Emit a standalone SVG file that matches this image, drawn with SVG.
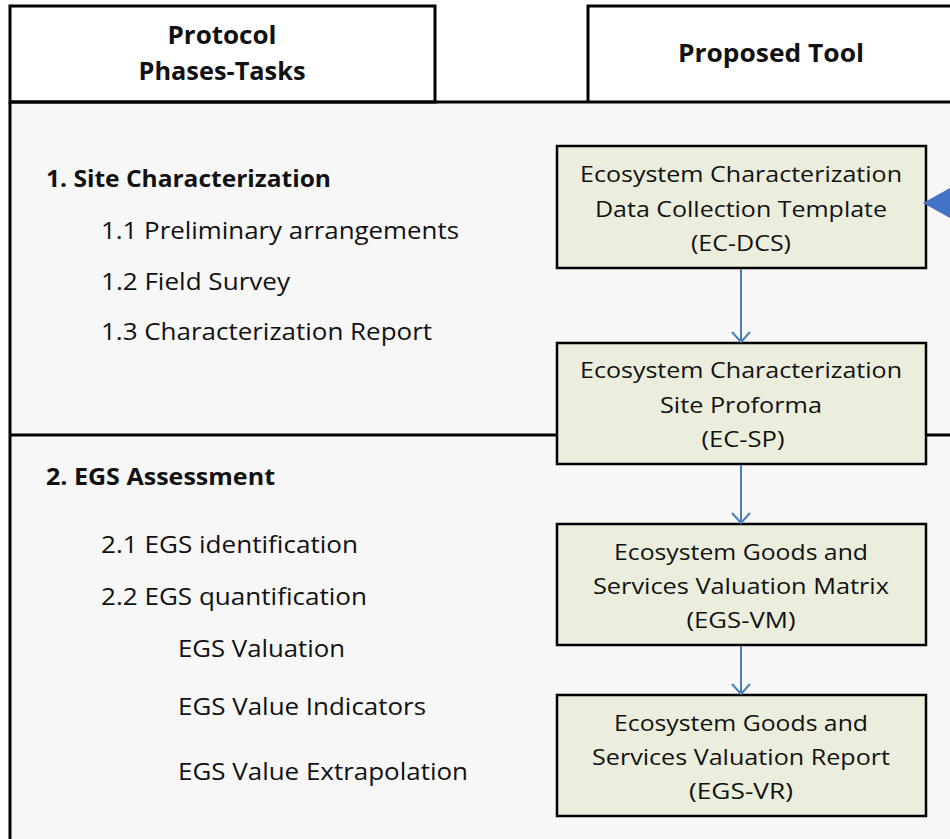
<svg xmlns="http://www.w3.org/2000/svg" width="950" height="839" viewBox="0 0 950 839">
  <defs>
    <!-- open "vee" arrowhead, drawn pointing along +x so orient="auto" follows the line -->
    <marker id="vee" viewBox="0 0 20 20" refX="19" refY="10" markerWidth="20" markerHeight="20" markerUnits="userSpaceOnUse" orient="auto">
      <path d="M9 1 L19 10 L9 19" fill="none" stroke="#4a7ebb" stroke-width="2"/>
    </marker>
  </defs>
  <style>
    .frame { fill: none; stroke: #000; stroke-width: 3; }
    .head { font-family: "Open Sans", "Liberation Sans", sans-serif; font-weight: bold; font-size: 25px; fill: #111; text-anchor: middle; }
    .phase { font-family: "Open Sans", "Liberation Sans", sans-serif; font-weight: bold; font-size: 23px; fill: #111; }
    .task { font-family: "Open Sans", "Liberation Sans", sans-serif; font-size: 23px; fill: #111; }
    .tool rect { fill: #ebeedd; stroke: #000; stroke-width: 2.5; }
    .tool text { font-family: "Open Sans", "Liberation Sans", sans-serif; font-size: 22px; fill: #111; text-anchor: middle; }
    .link { stroke: #4a7ebb; stroke-width: 2; fill: none; }
  </style>

  <!-- page and body background -->
  <rect x="0" y="0" width="950" height="839" fill="#ffffff"/>
  <rect x="10" y="102" width="940" height="737" fill="#f7f7f7"/>

  <!-- column headers -->
  <g id="header-phases">
    <rect x="10" y="6" width="425" height="96" fill="#fff" class="frame"/>
    <text class="head" x="222" y="44" textLength="109" lengthAdjust="spacingAndGlyphs">Protocol</text>
    <text class="head" x="222" y="80" textLength="167" lengthAdjust="spacingAndGlyphs">Phases-Tasks</text>
  </g>
  <g id="header-tool">
    <path d="M952 6 H588 V102" fill="#fff" class="frame"/>
    <text class="head" x="771" y="62" textLength="186" lengthAdjust="spacingAndGlyphs">Proposed Tool</text>
  </g>

  <!-- body frame lines -->
  <path class="frame" d="M10 102 H950 M10 102 V839"/>
  <path class="frame" d="M10 435 H557 M926 435 H950"/>

  <!-- phase 1 -->
  <g id="phase-1">
    <text class="phase" x="46" y="187" textLength="285" lengthAdjust="spacingAndGlyphs">1. Site Characterization</text>
    <text class="task" x="101" y="239" textLength="358" lengthAdjust="spacingAndGlyphs">1.1 Preliminary arrangements</text>
    <text class="task" x="101" y="290" textLength="189" lengthAdjust="spacingAndGlyphs">1.2 Field Survey</text>
    <text class="task" x="101" y="340" textLength="331" lengthAdjust="spacingAndGlyphs">1.3 Characterization Report</text>
  </g>

  <!-- phase 2 -->
  <g id="phase-2">
    <text class="phase" x="46" y="485" textLength="229" lengthAdjust="spacingAndGlyphs">2. EGS Assessment</text>
    <text class="task" x="101" y="553" textLength="257" lengthAdjust="spacingAndGlyphs">2.1 EGS identification</text>
    <text class="task" x="101" y="605" textLength="266" lengthAdjust="spacingAndGlyphs">2.2 EGS quantification</text>
    <text class="task" x="178" y="657" textLength="167" lengthAdjust="spacingAndGlyphs">EGS Valuation</text>
    <text class="task" x="178" y="715" textLength="248" lengthAdjust="spacingAndGlyphs">EGS Value Indicators</text>
    <text class="task" x="178" y="780" textLength="290" lengthAdjust="spacingAndGlyphs">EGS Value Extrapolation</text>
  </g>

  <!-- tools -->
  <g id="tool-ec-dcs" class="tool">
    <rect x="557" y="146" width="369" height="122"/>
    <text x="741" y="182" textLength="322" lengthAdjust="spacingAndGlyphs">Ecosystem Characterization</text>
    <text x="741" y="217" textLength="292" lengthAdjust="spacingAndGlyphs">Data Collection Template</text>
    <text x="741" y="251" textLength="100" lengthAdjust="spacingAndGlyphs">(EC-DCS)</text>
  </g>
  <g id="tool-ec-sp" class="tool">
    <rect x="557" y="343" width="369" height="121"/>
    <text x="741" y="378" textLength="322" lengthAdjust="spacingAndGlyphs">Ecosystem Characterization</text>
    <text x="741" y="413" textLength="162" lengthAdjust="spacingAndGlyphs">Site Proforma</text>
    <text x="743" y="447" textLength="83" lengthAdjust="spacingAndGlyphs">(EC-SP)</text>
  </g>
  <g id="tool-egs-vm" class="tool">
    <rect x="557" y="524" width="369" height="121"/>
    <text x="741" y="560" textLength="254" lengthAdjust="spacingAndGlyphs">Ecosystem Goods and</text>
    <text x="741" y="594" textLength="296" lengthAdjust="spacingAndGlyphs">Services Valuation Matrix</text>
    <text x="741" y="628" textLength="109" lengthAdjust="spacingAndGlyphs">(EGS-VM)</text>
  </g>
  <g id="tool-egs-vr" class="tool">
    <rect x="557" y="695" width="369" height="121"/>
    <text x="741" y="731" textLength="254" lengthAdjust="spacingAndGlyphs">Ecosystem Goods and</text>
    <text x="741" y="765" textLength="298" lengthAdjust="spacingAndGlyphs">Services Valuation Report</text>
    <text x="741" y="799" textLength="104" lengthAdjust="spacingAndGlyphs">(EGS-VR)</text>
  </g>

  <!-- connectors -->
  <g id="connectors">
    <line class="link" x1="741" y1="269" x2="741" y2="342" marker-end="url(#vee)"/>
    <line class="link" x1="741" y1="465" x2="741" y2="523" marker-end="url(#vee)"/>
    <line class="link" x1="741" y1="646" x2="741" y2="694" marker-end="url(#vee)"/>
    <polygon points="923,203 950,188 950,218" fill="#4472c4"/>
  </g>
</svg>
